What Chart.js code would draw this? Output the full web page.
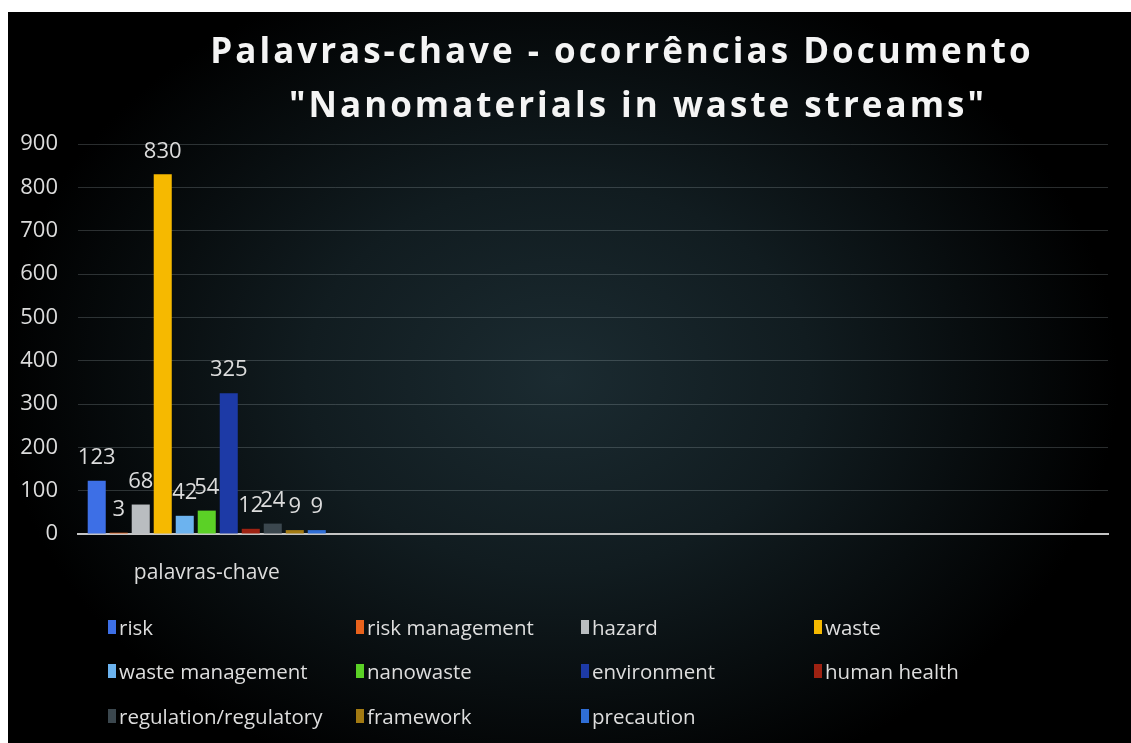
<!DOCTYPE html>
<html>
<head>
<meta charset="utf-8">
<script src="https://cdn.jsdelivr.net/npm/chart.js@4.4.1/dist/chart.umd.min.js"></script>
<style>
  html, body { margin: 0; padding: 0; background: #fff; }
  #wrap {
    position: absolute; left: 8px; top: 12px; width: 1123px; height: 731px;
    background: radial-gradient(ellipse 560px 430px at 49% 50%, #1b2b31 0%, #111c20 45%, #000 100%);
    overflow: hidden;
  }
  #chart { position: absolute; left: 0; top: 0; }
  #legend {
    position: absolute; left: 0; top: 0; width: 100%; height: 100%;
    font-family: "Open Sans", sans-serif; font-size: 20.5px; color: #dedede;
  }
  .item { position: absolute; display: flex; align-items: center; white-space: nowrap; }
  .box { width: 8px; height: 14px; margin-right: 3px; }
</style>
</head>
<body>
<div id="wrap">
  <canvas id="chart" width="1123" height="731"></canvas>
  <div id="legend"></div>
</div>
<script>
document.addEventListener('DOMContentLoaded', () => {
  const titleLines = ['Palavras-chave - ocorrências Documento', '"Nanomaterials in waste streams"'];
  const categories = ['palavras-chave', '', '', ''];
  const seriesNames = ['risk', 'risk management', 'hazard', 'waste', 'waste management', 'nanowaste',
    'environment', 'human health', 'regulation/regulatory', 'framework', 'precaution'];
  const seriesValues = [123, 3, 68, 830, 42, 54, 325, 12, 24, 9, 9];
  const seriesColors = ['#3d6fe6', '#e8621c', '#b9bdc0', '#f6b900', '#6cb3ef', '#5bd126',
    '#1d3aa6', '#9e2212', '#3b474e', '#a27a12', '#2f6ed6'];
  const yTicks = [0, 100, 200, 300, 400, 500, 600, 700, 800, 900];

  const datasets = seriesNames.map((name, i) => ({
    label: name,
    data: [seriesValues[i]],
    backgroundColor: seriesColors[i],
    categoryPercentage: 0.94,
    barPercentage: 0.82
  }));

  // spaced-out title, drawn like the original (slightly right of centre)
  const spacedTitle = {
    id: 'spacedTitle',
    afterDraw(chart) {
      const ctx = chart.ctx;
      ctx.save();
      ctx.font = 'bold 35px "Open Sans", sans-serif';
      ctx.letterSpacing = '3px';
      ctx.fillStyle = '#f4f4f4';
      ctx.textAlign = 'center';
      ctx.textBaseline = 'middle';
      ctx.fillText(titleLines[0], 614, 41);
      ctx.fillText(titleLines[1], 630, 95);
      ctx.restore();
    }
  };

  // value labels above each bar
  const valueLabels = {
    id: 'valueLabels',
    afterDatasetsDraw(chart) {
      const ctx = chart.ctx;
      ctx.save();
      ctx.font = '22px "Open Sans", sans-serif';
      ctx.fillStyle = '#dcdcdc';
      ctx.textAlign = 'center';
      ctx.textBaseline = 'middle';
      chart.data.datasets.forEach((ds, i) => {
        chart.getDatasetMeta(i).data.forEach((bar, j) => {
          const v = ds.data[j];
          if (v == null) return;
          ctx.fillText(String(v), bar.x, bar.y - 23);
        });
      });
      ctx.restore();
    }
  };

  new Chart(document.getElementById('chart'), {
    type: 'bar',
    data: { labels: categories, datasets },
    plugins: [valueLabels, spacedTitle],
    options: {
      responsive: false,
      animation: false,
      layout: { padding: { top: 132, right: 23, left: 0, bottom: 0 } },
      plugins: {
        legend: { display: false },
        tooltip: { enabled: false },
        title: { display: false }
      },
      scales: {
        x: {
          grid: { display: false },
          border: { display: true, color: '#c4c4c4', width: 2 },
          ticks: { color: '#dcdcdc', font: { family: '"Open Sans", sans-serif', size: 21 }, padding: 18 },
          afterFit: s => { s.height = 209; }
        },
        y: {
          min: 0, max: 900,
          afterBuildTicks: s => { s.ticks = yTicks.map(v => ({ value: v })); },
          grid: {
            drawTicks: false,
            color: c => c.tick && c.tick.value === 0 ? 'rgba(0,0,0,0)' : 'rgba(190,205,210,0.22)',
            lineWidth: 1
          },
          border: { display: false },
          ticks: { color: '#dcdcdc', font: { family: '"Open Sans", sans-serif', size: 22 }, padding: 20 },
          afterFit: s => { s.width = 70; }
        }
      }
    }
  });

  // legend in 4 columns like the original
  const legend = document.getElementById('legend');
  const colX = [100, 348, 573, 806];
  const rowY = [615, 659, 704];
  seriesNames.forEach((name, i) => {
    const item = document.createElement('div');
    item.className = 'item';
    item.style.left = colX[i % 4] + 'px';
    item.style.top = (rowY[Math.floor(i / 4)] - 14) + 'px';
    const box = document.createElement('span');
    box.className = 'box';
    box.style.background = seriesColors[i];
    const txt = document.createElement('span');
    txt.innerText = name;
    item.appendChild(box);
    item.appendChild(txt);
    legend.appendChild(item);
  });
});
</script>
</body>
</html>
